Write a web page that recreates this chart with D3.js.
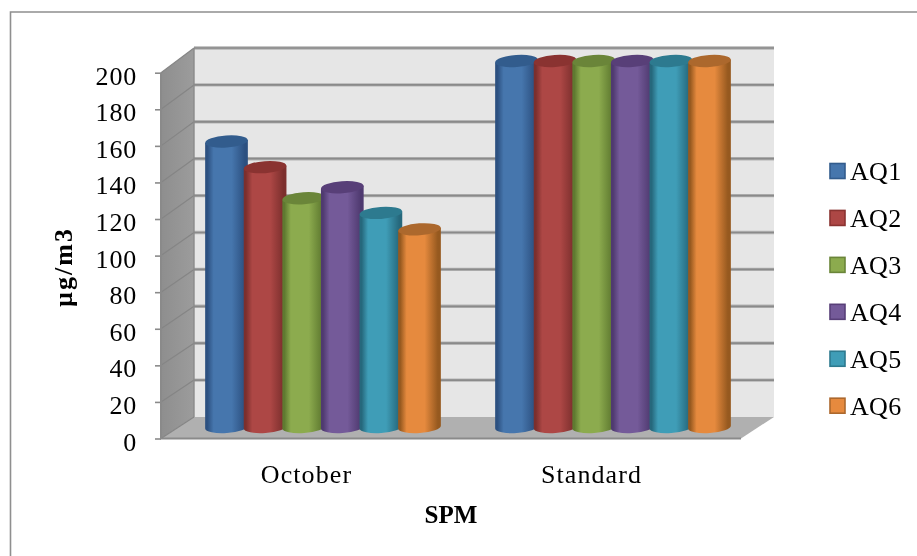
<!DOCTYPE html>
<html><head><meta charset="utf-8">
<script src="https://cdn.jsdelivr.net/npm/d3@7"></script>
<style>
html,body{margin:0;padding:0;background:#fff}
svg{display:block;filter:blur(.3px)}
text{font-family:"Liberation Serif",serif;fill:#000}
</style></head><body>
<svg id="c" width="917" height="556"></svg>
<script>
const categories = ["October","Standard"];
const seriesNames = ["AQ1","AQ2","AQ3","AQ4","AQ5","AQ6"];
const octoberValues = [156,142,125,131,117,108];
const standardValues = [200,200,200,200,200,200];
const tickValues = [0,20,40,60,80,100,120,140,160,180,200];
const bodyColors = ["#4676ad","#ad4745","#8cab4e","#745a99","#3f9db7","#e68a3e"];
const edgeColors = ["#2c5080","#7c2f2d","#5f7a30","#4f3a70","#26687c","#96591f"];
const capColors = ["#325c8d","#8a3331","#6a8539","#583f78","#2d7a8f","#ac682d"];
const valuesByCategory = [octoberValues, standardValues];

const svg = d3.select("#c");
const defs = svg.append("defs");
seriesNames.forEach((s,i)=>{
  const g = defs.append("linearGradient").attr("id","grad"+i);
  [[0,edgeColors[i]],[.05,edgeColors[i]],[.2,bodyColors[i]],[.62,bodyColors[i]],[.93,edgeColors[i]],[1,edgeColors[i]]]
    .forEach(([o,c])=>g.append("stop").attr("offset",o).attr("stop-color",c));
});
const sideGrad = defs.append("linearGradient").attr("id","side").attr("x1",0).attr("x2",1);
sideGrad.append("stop").attr("offset",0).attr("stop-color","#8e8e8e");
sideGrad.append("stop").attr("offset",1).attr("stop-color","#9c9c9c");

// frame (top and left only)
svg.append("path").attr("d","M10.5,556V12H917").attr("fill","none").attr("stroke","#8f8f8f").attr("stroke-width",1.6);

const yFront = d3.scaleLinear().domain([0,200]).range([438.5,72.7]);
const yBack  = d3.scaleLinear().domain([0,200]).range([417,48]);
const yBar   = d3.scaleLinear().domain([0,200]).range([427,61]);
const xFloor = d3.scaleLinear().domain([0,1]).range([161,741]);
const depthX = 33;

// walls
const xL = xFloor(0), xR = xFloor(1);
svg.append("path").attr("fill","#e6e6e6")
  .attr("d",`M${xL+depthX},${yBack(200)}H${xR+depthX}V${yBack(0)}H${xL+depthX}Z`);
svg.append("path").attr("fill","url(#side)")
  .attr("d",`M${xL},${yFront(0)}L${xL+depthX},${yBack(0)}V${yBack(200)}L${xL},${yFront(200)}Z`);
svg.append("path").attr("fill","#b0b0b0")
  .attr("d",`M${xL},${yFront(0)}L${xL+depthX},${yBack(0)}H${xR+depthX}L${xR},${yFront(0)}Z`);

// gridlines
svg.append("g").selectAll("line.h").data(tickValues.filter(d=>d>0)).join("line")
  .attr("x1",xL+depthX).attr("x2",xR+depthX).attr("y1",d=>yBack(d)).attr("y2",d=>yBack(d))
  .attr("stroke","#b4b4b4").attr("stroke-width",3.4);
svg.append("g").selectAll("line.h").data(tickValues.filter(d=>d>0)).join("line")
  .attr("x1",xL+depthX).attr("x2",xR+depthX).attr("y1",d=>yBack(d)).attr("y2",d=>yBack(d))
  .attr("stroke","#8a8a8a").attr("stroke-width",1.7);
svg.append("g").selectAll("line").data(tickValues).join("line")
  .attr("x1",xL).attr("x2",xL+depthX).attr("y1",d=>yFront(d)).attr("y2",d=>yBack(d))
  .attr("stroke","#858585").attr("stroke-width",1.2);
// floor front and side edges
svg.append("path").attr("fill","none").attr("stroke","#8a8a8a").attr("stroke-width",2)
  .attr("d",`M${xL},${yFront(200)}V${yFront(0)}H${xR}`);
svg.append("path").attr("fill","none").attr("stroke","#8a8a8a").attr("stroke-width",1.4)
  .attr("d",`M${xL+depthX},${yBack(0)}V${yBack(200)}`);

// y axis
const axisG = svg.append("g").attr("transform",`translate(${xL},0)`)
  .call(d3.axisLeft(yFront).tickValues(tickValues).tickSize(6).tickPadding(0).tickFormat(d3.format("d")));
axisG.select(".domain").remove();
axisG.selectAll(".tick line").attr("stroke","#8a8a8a").attr("stroke-width",1.6);
axisG.selectAll(".tick text").attr("x",-24).attr("dy",null).attr("y",11.5)
  .attr("font-size",26).attr("letter-spacing",.8).attr("text-anchor","end")
  .style("font-family",'"Liberation Serif",serif');

// cylinders
const x0 = d3.scaleBand().domain(categories).range([178,758]);
const x1 = d3.scaleBand().domain(seriesNames).range([0,231.6]);
const barW = x1.bandwidth()+4.1, ry = 6, tilt = -4;
const lift = barW/2*Math.sin(-tilt*Math.PI/180);
categories.forEach((cat,ci)=>{
  const start = x0(cat)+x0.bandwidth()/2-(231.6+4.1)/2;
  const g = svg.append("g");
  seriesNames.forEach((s,i)=>{
    const v = valuesByCategory[ci][i];
    const xx = start+x1(s), yT = yBar(v), yB = yBar(0), rx = barW/2;
    g.append("path").attr("fill",`url(#grad${i})`)
      .attr("d",`M${xx},${yT+lift}V${yB+lift}A${rx},${ry} ${tilt} 0 0 ${xx+barW},${yB-lift}V${yT-lift}Z`);
    g.append("ellipse").attr("cx",xx+rx).attr("cy",yT).attr("rx",rx).attr("ry",ry).attr("fill",capColors[i])
      .attr("transform",`rotate(${tilt} ${xx+rx} ${yT})`);
  });
});

// category labels
const xLabels = d3.scaleBand().domain(categories).range([164,734]);
svg.append("g").selectAll("text").data(categories).join("text")
  .attr("x",d=>xLabels(d)+xLabels.bandwidth()/2).attr("y",483)
  .attr("text-anchor","middle").attr("font-size",26).attr("letter-spacing",1.1).text(d=>d);

// axis titles
svg.append("text").attr("x",451).attr("y",523).attr("text-anchor","middle")
  .attr("font-size",25).attr("font-weight","bold").text("SPM");
svg.append("text").attr("transform","translate(72,267) rotate(-90)").attr("text-anchor","middle")
  .attr("font-size",26).attr("letter-spacing",2).attr("font-weight","bold").text("µg/m3");

// legend
const yLegend = d3.scalePoint().domain(seriesNames).range([171,405.7]);
const lg = svg.append("g").selectAll("g").data(seriesNames).join("g")
  .attr("transform",d=>`translate(830,${yLegend(d)})`);
lg.append("rect").attr("x",0).attr("y",-7.5).attr("width",15).attr("height",15)
  .attr("fill",(d,i)=>bodyColors[i]).attr("stroke",(d,i)=>capColors[i]).attr("stroke-width",1.6);
lg.append("text").attr("x",20).attr("y",9).attr("font-size",26).attr("letter-spacing",.3).text(d=>d);
</script>
</body></html>
